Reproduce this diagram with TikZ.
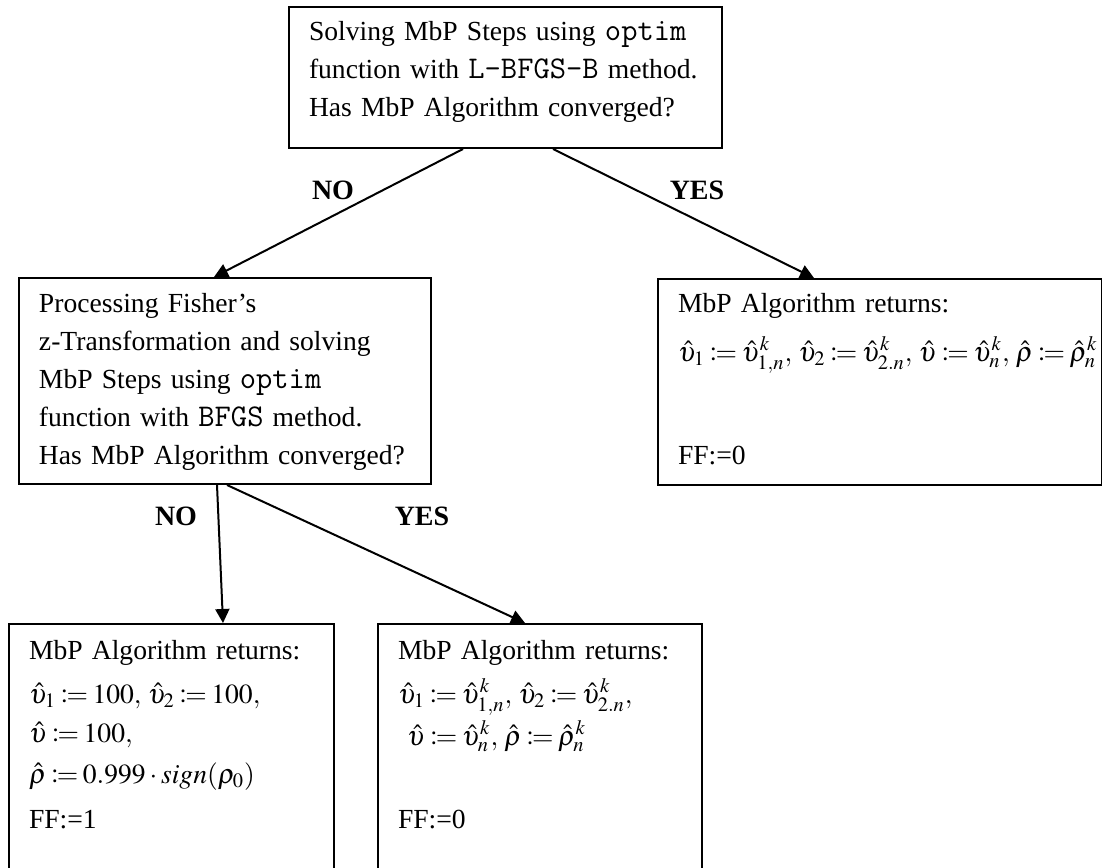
\documentclass[tikz,border=0pt]{standalone}
\usepackage{mathptmx}
\usepackage{mathtools}
\usepackage[no-math]{fontspec}
\setmainfont{Liberation Serif}
\usetikzlibrary{arrows.meta,calc}
\newcommand{\code}[1]{\texttt{\fontsize{15.8}{19}\selectfont #1}}
\tikzset{
    box/.style={draw, line width=1pt, anchor=north west, align=left, inner xsep=10pt, inner ysep=0pt,
        font=\fontsize{13.8}{19}\selectfont, execute at begin node={\thickmuskip=3mu plus 2mu}},
    answer/.style={font=\bfseries\fontsize{14}{16}\selectfont, inner sep=0pt},
    edge/.style={draw, line width=1pt, -{Triangle[length=7pt, width=7pt]}}
}

\begin{document}
\begin{tikzpicture}[x=0.5pt, y=-0.5pt]
    \useasboundingbox (0,0) rectangle (1102,867);
    \clip (0,0) rectangle (1102,867);

    % Nodes
    \node[box, text width=196.5pt, text height=16.5pt, text depth=54pt] (lbfgsb) at (288,6)
        {Solving MbP Steps using \code{optim}\\ function with \code{L-BFGS-B\ }method.\\ Has MbP Algorithm converged?};
    \node[box, text width=186pt, text height=17pt, text depth=86pt] (bfgs) at (18,277)
        {Processing Fisher's\\ z-Transformation and solving\\ MbP Steps using \code{optim}\\ function with \code{BFGS\ }method.\\ Has MbP Algorithm converged?};
    \node[box, text width=202pt, text height=16.5pt, text depth=86.5pt] (conv1) at (657,278)
        {MbP Algorithm returns:\\[5.5pt]
         \mbox{$\hat{\upsilon}_1 \coloneqq \hat{\upsilon}^k_{1,n},\,\hat{\upsilon}_2 \coloneqq \hat{\upsilon}^k_{2.n},\,\hat{\upsilon} \coloneqq \hat{\upsilon}^k_n,\,\hat{\rho} \coloneqq \hat{\rho}^k_n$}\\[32.5pt]
         FF:=0};
    \node[box, text width=142.5pt, text height=17.5pt, text depth=121pt] (fail) at (8,623)
        {MbP Algorithm returns:\\[3pt]
         $\hat{\upsilon}_1 \coloneqq 100,\,\hat{\upsilon}_2 \coloneqq 100,$\\[0.5pt]
         $\hat{\upsilon} \coloneqq 100,$\\[1.5pt]
         $\hat{\rho} \coloneqq 0.999 \cdot sign(\rho_0)$\\[3.5pt]
         FF:=1};
    \node[box, text width=142pt, text height=17.5pt, text depth=121pt] (conv2) at (377,623)
        {MbP Algorithm returns:\\[3pt]
         \mbox{$\hat{\upsilon}_1 \coloneqq \hat{\upsilon}^k_{1,n},\,\hat{\upsilon}_2 \coloneqq \hat{\upsilon}^k_{2.n},$}\\[2pt]
         \ \mbox{$\hat{\upsilon} \coloneqq \hat{\upsilon}^k_n,\,\hat{\rho} \coloneqq \hat{\rho}^k_n$}\\[22.5pt]
         FF:=0};

    \node[answer] (no1) at (333,190) {NO};
    \node[answer] (yes1) at (697,190) {YES};
    \node[answer] (no2) at (176,516) {NO};
    \node[answer] (yes2) at (422,516) {YES};

    % edges
    \draw[edge] ([xshift=-21.25pt]lbfgsb.south) -- ([xshift=-5.5pt]bfgs.north);
    \draw[edge] ([xshift=23.75pt]lbfgsb.south) -- ([xshift=-33pt]conv1.north);
    \draw[edge] ([xshift=-4pt]bfgs.south) -- ([xshift=25.75pt]fail.north);
    \draw[edge] ([xshift=1pt]bfgs.south) -- ([xshift=-7.5pt]conv2.north);
\end{tikzpicture}
\end{document}
